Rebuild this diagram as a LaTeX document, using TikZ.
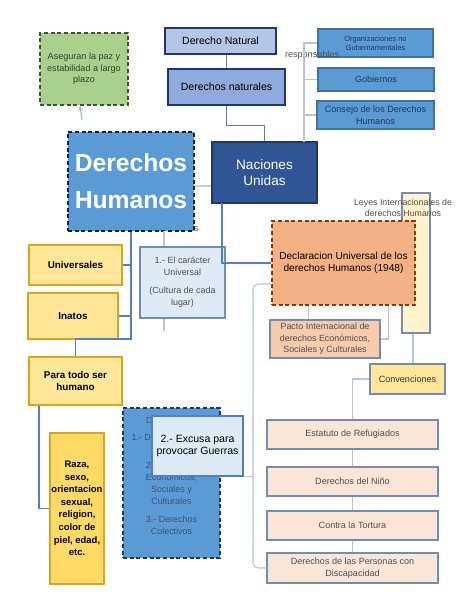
\documentclass[tikz,border=0pt]{standalone}
\usepackage{fontspec}
\setmainfont{Liberation Sans}
\usetikzlibrary{arrows.meta}

\definecolor{verde}{HTML}{A9D18E}
\definecolor{verdeborde}{HTML}{3E5530}
\definecolor{azulclaro}{HTML}{B4C7E7}
\definecolor{azulmedio}{HTML}{8FAADC}
\definecolor{azuloscuro}{HTML}{2F5597}
\definecolor{marino}{HTML}{1F3864}
\definecolor{azul}{HTML}{5B9BD5}
\definecolor{azulborde}{HTML}{41719C}
\definecolor{celeste}{HTML}{DEEBF7}
\definecolor{amarillo}{HTML}{FFE699}
\definecolor{amarillofuerte}{HTML}{FFD966}
\definecolor{dorado}{HTML}{D6A81E}
\definecolor{crema}{HTML}{FFF2CC}
\definecolor{naranja}{HTML}{F4B183}
\definecolor{cafe}{HTML}{843C0C}
\definecolor{salmon}{HTML}{F8CBAD}
\definecolor{rosado}{HTML}{FBE5D6}
\definecolor{grisazul}{HTML}{6F8DB5}
\definecolor{lineaazul}{HTML}{4F7FC6}
\definecolor{lineagris}{HTML}{B3C4DC}
\definecolor{textogris}{HTML}{505050}
\definecolor{textoazul}{HTML}{3A5577}

\begin{document}
\begin{tikzpicture}[x=0.75pt,y=-0.75pt,
	box/.style={draw, line width=0.8pt, align=center, inner sep=1pt},
	dashbox/.style={box, dash pattern=on 3pt off 2pt},
	mainline/.style={draw=lineaazul, line width=0.9pt},
	thinline/.style={draw=lineagris, line width=0.8pt},
	small/.style={font=\fontsize{6.8}{8.6}\selectfont}]

	\useasboundingbox (0,0) rectangle (474,613);

	%Lines behind the boxes
	\coordinate (resp) at (304,142);
	\coordinate (nuleg) at (222,203);
	\coordinate (carx) at (164,231);
	\coordinate (lg) at (253,284);
	\coordinate (asegtail) at (82,120);

	%Nodes
	\node[dashbox, fill=verde, draw=verdeborde, text=verdeborde!80!black, small,
		minimum width=66pt, minimum height=54pt] (aseg) at (84,69)
		{Aseguran la paz y\\estabilidad a largo\\plazo};
	\node[box, fill=azulclaro, draw=marino, font=\fontsize{7.9}{9}\selectfont,
		minimum width=83.25pt, minimum height=19.5pt] (dnat) at (220.5,41) {Derecho Natural};
	\node[box, fill=azulmedio, draw=marino, font=\fontsize{7.9}{9}\selectfont,
		minimum width=87.75pt, minimum height=27pt] (dnats) at (226.5,87) {Derechos naturales};
	\node[box, fill=azuloscuro, draw=marino, text=white, font=\fontsize{10.2}{12.5}\selectfont,
		minimum width=78.75pt, minimum height=45.75pt] (nu) at (264.5,172.5) {Naciones\\Unidas};

	\node[box, fill=azul, draw=azulborde, text=marino, font=\fontsize{5.6}{7}\selectfont,
		minimum width=86.25pt, minimum height=21pt] (ong) at (375.5,43) {Organizaciones no\\Gubernamentales};
	\node[box, fill=azul, draw=azulborde, text=marino, small,
		minimum width=87pt, minimum height=17.25pt] (gob) at (376,79.5) {Gobiernos};
	\node[box, fill=azul, draw=azulborde, text=marino, font=\fontsize{6.8}{9}\selectfont,
		minimum width=87.75pt, minimum height=21pt] (consejo) at (375.5,115) {Consejo de los Derechos\\Humanos};
	\node[small, text=textogris] (resplabel) at (312,55) {responsables};

	\node[small, text=textogris, anchor=east] (caract) at (203,228) {Características};
	\node[dashbox, fill=azul, draw=marino!60!black, text=white,
		font=\fontsize{18.5}{27.75}\selectfont\bfseries,
		minimum width=94.5pt, minimum height=74.25pt] (dh) at (131,181.5) {Derechos\\Humanos};

	\node[box, fill=amarillo, draw=dorado, font=\fontsize{7.4}{9}\selectfont\bfseries,
		minimum width=69.75pt, minimum height=30pt] (univ) at (75.5,265) {Universales};
	\node[box, fill=amarillo, draw=dorado, font=\fontsize{7.4}{9}\selectfont\bfseries,
		minimum width=67.5pt, minimum height=34.5pt] (inatos) at (73,316) {Inatos};
	\node[box, fill=amarillo, draw=dorado, font=\fontsize{7.4}{9.2}\selectfont\bfseries,
		minimum width=69.75pt, minimum height=36pt] (paratodo) at (75.5,381) {Para todo ser\\humano};
	\node[box, fill=amarillofuerte, draw=dorado, font=\fontsize{7.1}{9.4}\selectfont\bfseries,
		minimum width=40.5pt, minimum height=113.25pt] (raza) at (77,508.5)
		{Raza,\\sexo,\\orientacion\\sexual,\\religion,\\color de\\piel, edad,\\etc.};

	\node[box, fill=celeste, draw=grisazul, text=textogris, font=\fontsize{6.7}{9}\selectfont,
		minimum width=63.75pt, minimum height=53.25pt] (caracter) at (182.5,282.5)
		{1.- El carácter\\Universal\\[4.5pt](Cultura de cada\\lugar)};

	\node[box, fill=crema, draw=grisazul,
		minimum width=21pt, minimum height=105pt] (leyes) at (416,263) {};
	\node[small, text=textogris, align=center, font=\fontsize{6.6}{8}\selectfont] (leyeslabel) at (403,208)
		{Leyes Internacionales de\\derechos Humanos};
	\node[dashbox, fill=naranja, draw=cafe, font=\fontsize{7.6}{9.2}\selectfont,
		minimum width=107.25pt, minimum height=63pt] (decl) at (343.5,263)
		{Declaracion Universal de los\\derechos Humanos (1948)};
	\node[box, fill=salmon, draw=grisazul, text=textogris, font=\fontsize{6.7}{8.6}\selectfont,
		minimum width=82.5pt, minimum height=28.5pt] (pacto) at (325,339)
		{Pacto Internacional de\\derechos Económicos,\\Sociales y Culturales};
	\node[box, fill=amarillo, draw=grisazul, text=textogris!70!black, small,
		minimum width=56.25pt, minimum height=22.5pt] (conv) at (407.5,379) {Convenciones};

	\node[box, fill=rosado, draw=grisazul, text=textogris, small,
		minimum width=128.25pt, minimum height=21.75pt] (estatuto) at (352.5,434.5) {Estatuto de Refugiados};
	\node[box, fill=rosado, draw=grisazul, text=textogris, small,
		minimum width=128.25pt, minimum height=21.75pt] (nino) at (352.5,481.5) {Derechos del Niño};
	\node[box, fill=rosado, draw=grisazul, text=textogris, small,
		minimum width=128.25pt, minimum height=21.75pt] (tortura) at (352.5,525.5) {Contra la Tortura};
	\node[box, fill=rosado, draw=grisazul, text=textogris, font=\fontsize{6.8}{8.8}\selectfont,
		minimum width=128.25pt, minimum height=22.5pt] (discap) at (352.5,568)
		{Derechos de las Personas con\\Discapacidad};

	\node[dashbox, fill=azul, draw=marino, minimum width=72.75pt, minimum height=112.5pt] (generac) at (171.5,483) {};
	\node[text=textoazul, align=center, font=\fontsize{6.7}{9}\selectfont] (generactxt) at (171.5,475.5)
		{Derechos de\\[4pt]1.- Derechos Civiles\\y Políticos\\[3pt]2.- Derechos\\Económicos,\\Sociales y\\Culturales\\[4pt]3.- Derechos\\Colectivos};
	\node[box, fill=celeste, draw=lineaazul, font=\fontsize{7.9}{9.2}\selectfont,
		minimum width=68.25pt, minimum height=45pt] (excusa) at (197.5,446)
		{2.- Excusa para\\provocar Guerras};

	%Lines
	\draw[mainline] (dnats.north |- dnat.south) -- (dnats.north);
	\draw[mainline] (dnats.south) -- ++(0,20) -| (nu.north);
	\draw[thinline] (resp) |- (ong.west);
	\draw[thinline] (resp |- gob.west) -- (gob.west);
	\draw[thinline] (resp |- consejo.west) -- (consejo.west);
	\draw[thinline, draw=gray!40] (dh.east |- 0,186) -- (nu.west |- 0,186);
	\draw[mainline] (dh.south) -- (dh.south |- 0,339) -| (paratodo.north);
	\draw[mainline] (univ.east) -- (univ.east -| dh.south);
	\draw[mainline] (inatos.east) -- (inatos.east -| dh.south);
	\draw[mainline] ([xshift=-27.4pt]paratodo.south) |- (raza.west);
	\draw[thinline, draw=gray!45] (carx) -- (carx |- caracter.north);
	\draw[thinline, draw=gray!45] (carx |- caracter.south) -- ++(0,12);
	\draw[mainline] (nuleg) |- (decl.west);
	\draw[thinline] ([xshift=-26.6pt]decl.south) -- ([xshift=-26.6pt]decl.south |- pacto.north);
	\draw[thinline] ([xshift=33.4pt]decl.south) |- (pacto.east);
	\draw[thinline] ([xshift=-2.25pt]leyes.south) -- ([xshift=-2.25pt]leyes.south |- conv.north);
	\draw[thinline] (conv.west) -| (estatuto.north);
	\draw[thinline] (estatuto.south) -- (nino.north);
	\draw[thinline] (nino.south) -- (tortura.north);
	\draw[thinline] (tortura.south) -- (discap.north);
	\draw[thinline, rounded corners=4pt] (lg -| decl.west) -- (lg) |- (discap.west);
	\draw[thinline] (excusa.south east) -- (excusa.south east -| lg);
	\draw[thinline, draw=azul!70, -{Stealth[length=4pt]}] (asegtail) -- ([xshift=-3pt]aseg.south);

\end{tikzpicture}
\end{document}
